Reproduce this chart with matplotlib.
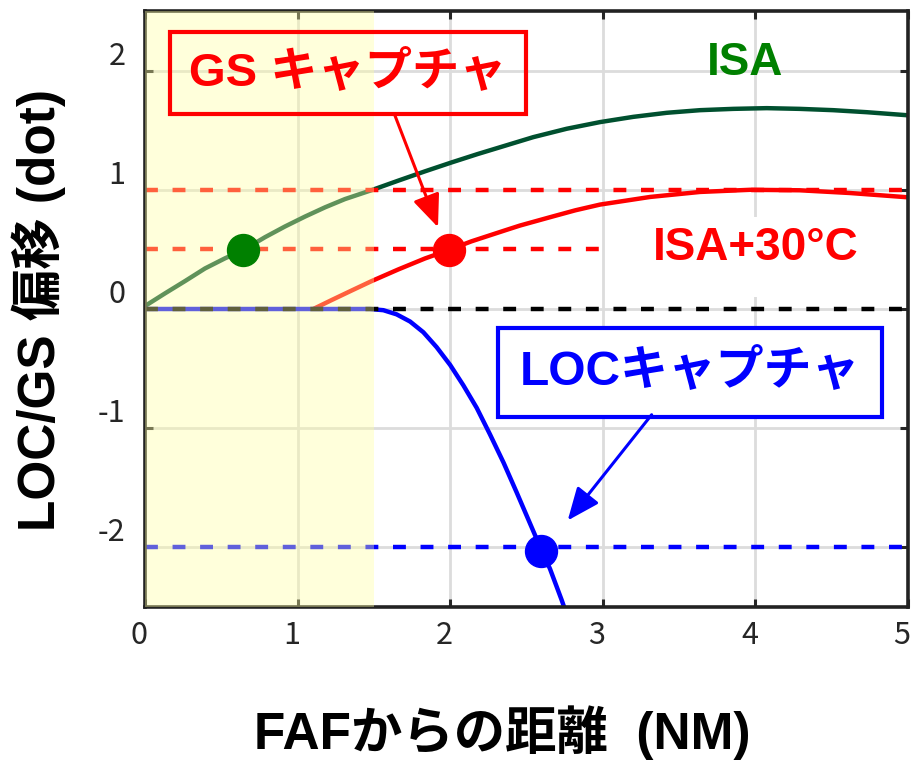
import matplotlib
matplotlib.use("Agg")
import matplotlib.pyplot as plt
import matplotlib.transforms as mtransforms
from matplotlib.patches import Rectangle

plt.rcParams['font.family'] = ['Noto Sans CJK JP', 'DejaVu Sans']
BOLD_FAMILY = ['Liberation Sans', 'Noto Sans CJK JP']

# ---------------- data ----------------
isa_x = [0.0, 0.131, 0.262, 0.393, 0.524, 0.644, 0.786, 0.917, 1.048, 1.18, 1.31, 1.485,
         1.66, 1.835, 2.01, 2.18, 2.36, 2.545, 2.763, 2.982, 3.20, 3.419, 3.637, 3.855,
         4.074, 4.29, 4.51, 4.73, 5.0]
isa_y = [0.025, 0.131, 0.234, 0.34, 0.425, 0.494, 0.602, 0.692, 0.775, 0.853, 0.922, 0.997,
         1.077, 1.155, 1.23, 1.30, 1.37, 1.442, 1.512, 1.568, 1.612, 1.646, 1.668, 1.679,
         1.685, 1.679, 1.668, 1.651, 1.625]

isa30_x = [1.103, 1.223, 1.354, 1.485, 1.66, 1.835, 1.988, 2.14, 2.36, 2.457, 2.654, 2.82,
           2.982, 3.31, 3.637, 3.965, 4.29, 4.62, 5.0]
isa30_y = [0.0, 0.075, 0.155, 0.234, 0.332, 0.424, 0.494, 0.568, 0.66, 0.70, 0.77, 0.828,
           0.876, 0.94, 0.982, 1.0, 0.996, 0.973, 0.937]

loc_x = [0.0, 1.474, 1.562, 1.649, 1.737, 1.824, 1.911, 2.0, 2.086, 2.174, 2.26, 2.35,
         2.436, 2.52, 2.577, 2.654, 2.73, 2.76]
loc_y = [0.0, 0.0, -0.01, -0.045, -0.105, -0.195, -0.32, -0.47, -0.64, -0.83, -1.05, -1.29,
         -1.54, -1.79, -1.96, -2.18, -2.44, -2.55]

gs_levels = [1.0, 0.5]
zero_level = 0.0
loc_level = -2.0

gs_capture_isa = (0.644, 0.494)
gs_capture_isa30 = (1.99, 0.494)
loc_capture = (2.593, -2.03)

shade_range = (0.0, 1.5)

x_ticks = [0, 1, 2, 3, 4, 5]
y_ticks = [-2, -1, 0, 1, 2]

# ---------------- figure ----------------
fig = plt.figure(figsize=(9.12, 7.62), dpi=100)
ax = fig.add_axes([145/912, 1-607/762, 763/912, 596/762])

ax.set_xlim(0, 5)
ax.set_ylim(-2.5, 2.5)

GREEN_LINE = '#00502f'
GREEN = '#008000'
RED = '#ff0000'
BLUE = '#0000ff'

ax.grid(True, color='#dcdcdc', linewidth=2.0, zorder=0.5)
ax.set_axisbelow(True)

lw = 3.2
dash = (0, (2.9, 3.3))

# dashed GS level lines
ax.axhline(gs_levels[1], color=RED, lw=lw, linestyle=dash, zorder=1.8)
ax.axhline(gs_levels[0], color=RED, lw=lw, linestyle=dash, zorder=2.1)

# white background behind ISA+30 label
ax.add_patch(Rectangle((3.02, 0.10), 1.96, 0.67, facecolor='white', edgecolor='none', zorder=1.9))

ax.plot(isa_x, isa_y, color=GREEN_LINE, lw=lw, zorder=2, solid_capstyle='butt', solid_joinstyle='round')
ax.plot(isa30_x, isa30_y, color=RED, lw=lw, zorder=2, solid_capstyle='butt', solid_joinstyle='round')
ax.plot(loc_x, loc_y, color=BLUE, lw=lw, zorder=2, solid_capstyle='butt', solid_joinstyle='round')

ax.axhline(zero_level, color='black', lw=lw, linestyle=dash, zorder=2.1)
ax.axhline(loc_level, color=BLUE, lw=lw, linestyle=dash, zorder=2.1)

# shaded region overlay
ax.axvspan(*shade_range, facecolor=(1.0, 1.0, 0.63), alpha=0.38, edgecolor='none', zorder=3)

# capture markers
ax.plot(*gs_capture_isa, 'o', color=GREEN, markersize=23, zorder=4)
ax.plot(*gs_capture_isa30, 'o', color=RED, markersize=23, zorder=4)
ax.plot(*loc_capture, 'o', color=BLUE, markersize=23, zorder=4)

# labels
ax.text(3.93, 2.06, 'ISA', color=GREEN, fontsize=33, fontweight='bold', family=BOLD_FAMILY,
        ha='center', va='center', zorder=5)
ax.text(4.0, 0.515, 'ISA+30°C', color=RED, fontsize=33, fontweight='bold', family=BOLD_FAMILY,
        ha='center', va='center', zorder=5)

ax.text(1.33, 1.98, 'GS キャプチャ', color=RED, fontsize=34, fontweight='bold', family=BOLD_FAMILY,
        ha='center', va='center', zorder=5,
        bbox=dict(boxstyle='square,pad=0.4', facecolor='none', edgecolor=RED, linewidth=3))
ax.text(3.57, -0.53, 'LOCキャプチャ', color=BLUE, fontsize=34.5, fontweight='bold', family=BOLD_FAMILY,
        ha='center', va='center', zorder=5,
        bbox=dict(boxstyle='square,pad=0.45', facecolor='white', edgecolor=BLUE, linewidth=3))

arrow_style = '-|>,head_length=1.0,head_width=0.42'
ax.annotate('', xy=(1.92, 0.686), xytext=(1.638, 1.623),
            arrowprops=dict(arrowstyle=arrow_style, color=RED, lw=2.2, mutation_scale=20,
                            shrinkA=0, shrinkB=0), zorder=5)
ax.annotate('', xy=(2.77, -1.774), xytext=(3.32, -0.887),
            arrowprops=dict(arrowstyle=arrow_style, color=BLUE, lw=2.2, mutation_scale=20,
                            shrinkA=0, shrinkB=0), zorder=5)

# axes styling
ax.set_xticks(x_ticks)
ax.set_yticks(y_ticks)
ax.set_xticklabels([str(v) for v in x_ticks])
ax.set_yticklabels([str(v) for v in y_ticks])
ax.tick_params(direction='in', length=6, width=2.2, top=True, right=True,
               labelsize=22, labelcolor='#262626', color='#262626')
ax.tick_params(axis='x', pad=9)
ax.tick_params(axis='y', pad=14)
for sp in ax.spines.values():
    sp.set_linewidth(2.6)
    sp.set_color('#222222')

off_y = mtransforms.ScaledTranslation(0, 0.18, fig.dpi_scale_trans)
for lab in ax.get_yticklabels():
    lab.set_transform(lab.get_transform() + off_y)
off_x = mtransforms.ScaledTranslation(-0.06, 0, fig.dpi_scale_trans)
for lab in ax.get_xticklabels():
    lab.set_transform(lab.get_transform() + off_x)

ax.set_xlabel('FAFからの距離  (NM)', fontsize=37, fontweight='bold', family=BOLD_FAMILY, va='center')
ax.xaxis.set_label_coords(0.468, -0.211)
ax.set_ylabel('LOC/GS 偏移 (dot)', fontsize=37, fontweight='bold', family=BOLD_FAMILY, va='center')
ax.yaxis.set_label_coords(-0.139, 0.498)

fig.savefig('out.png', dpi=100)
